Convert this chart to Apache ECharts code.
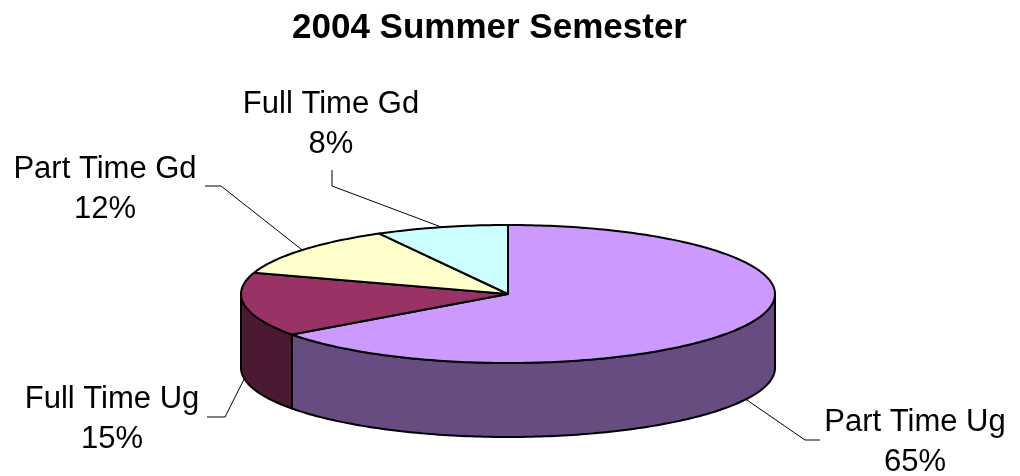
<!DOCTYPE html>
<html>
<head>
<meta charset="utf-8">
<script src="https://cdn.jsdelivr.net/npm/echarts@6/dist/echarts.min.js"></script>
<style>
html, body { margin: 0; background: #fff; }
#chart { width: 1020px; height: 476px; }
</style>
</head>
<body>
<div id="chart"></div>
<script>
var categories = ['Part Time Ug', 'Full Time Ug', 'Part Time Gd', 'Full Time Gd'];
var values = [65, 15, 12, 8];
var topColors = ['#CC99FF', '#993366', '#FFFFCC', '#CCFFFF'];
var sideColors = ['#664C80', '#4C1933', '#80804C', '#4C8080'];

// label centre x,y / end of the short stub / elbow of the leader line
var labelLayout = [
    [915, 442, 820, 440, 805, 440],
    [112, 419, 207, 417, 225, 417],
    [105, 189, 205, 186, 221, 186],
    [331, 124, 332, 170, 332, 186]
];
var pie = { cx: 508, cy: 294, rx: 267, ry: 69, depth: 74 };

var total = values.reduce(function (a, b) { return a + b; }, 0);
var starts = [];
var acc = 0;
values.forEach(function (v) { starts.push(acc / total * 360); acc += v; });

// angle in degrees, clockwise from 12 o'clock
function pt(deg, dy) {
    var r = deg * Math.PI / 180;
    return [pie.cx + pie.rx * Math.sin(r), pie.cy - pie.ry * Math.cos(r) + dy];
}
function arc(from, to, dy) {
    var pts = [];
    var n = Math.max(2, Math.ceil(Math.abs(to - from)));
    for (var k = 0; k <= n; k++) {
        pts.push(pt(from + (to - from) * k / n, dy));
    }
    return pts;
}

function renderItem(params, api) {
    var i = params.dataIndex;
    var v = api.value(0);
    var a0 = starts[i];
    var a1 = a0 + v / total * 360;
    var children = [];

    var s0 = Math.max(a0, 90), s1 = Math.min(a1, 270);
    if (s1 > s0) {
        children.push({
            type: 'polygon',
            shape: { points: arc(s0, s1, 0).concat(arc(s1, s0, pie.depth)) },
            style: { fill: sideColors[i], stroke: '#000', lineWidth: 2, lineJoin: 'round' }
        });
    }
    children.push({
        type: 'polygon',
        shape: { points: [[pie.cx, pie.cy]].concat(arc(a0, a1, 0)) },
        style: { fill: topColors[i], stroke: '#000', lineWidth: 2, lineJoin: 'round' }
    });

    var mid = (a0 + a1) / 2;
    var front = Math.cos(mid * Math.PI / 180) < 0;
    var anchor = pt(mid, front ? pie.depth : 0);
    var L = labelLayout[i];
    children.push({
        type: 'polyline',
        shape: { points: [anchor, [L[4], L[5]], [L[2], L[3]]] },
        style: { stroke: '#000', lineWidth: 1, fill: null }
    });
    children.push({
        type: 'text',
        style: {
            text: categories[i] + '\n' + Math.round(v / total * 100) + '%',
            x: L[0], y: L[1],
            align: 'center', verticalAlign: 'middle',
            fontSize: 31, lineHeight: 40,
            fontFamily: 'Liberation Sans, Arial, sans-serif',
            fill: '#000'
        }
    });
    return { type: 'group', children: children };
}

var myChart = echarts.init(document.getElementById('chart'));
var option = {
    backgroundColor: '#fff',
    animation: false,
    title: {
        text: '2004 Summer Semester',
        left: 287,
        top: 6,
        textStyle: {
            fontSize: 35,
            fontWeight: 'bold',
            fontFamily: 'Liberation Sans, Arial, sans-serif',
            color: '#000'
        }
    },
    series: [{
        type: 'custom',
        coordinateSystem: 'none',
        renderItem: renderItem,
        data: values.map(function (v, i) { return { name: categories[i], value: v }; })
    }]
};
myChart.setOption(option);
</script>
</body>
</html>
